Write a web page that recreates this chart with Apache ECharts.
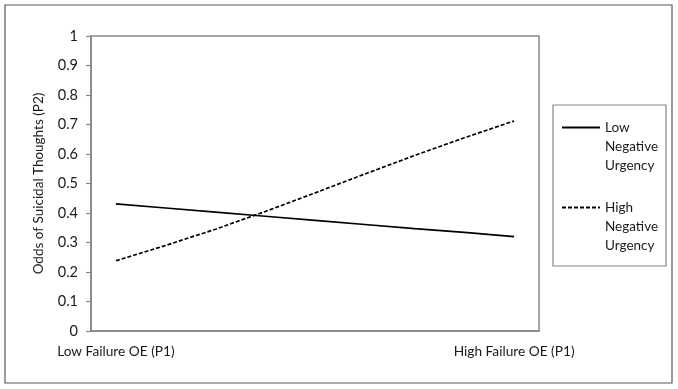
<!DOCTYPE html>
<html><head><meta charset="utf-8">
<script src="https://cdn.jsdelivr.net/npm/echarts@6/dist/echarts.min.js"></script>
<style>html,body{margin:0;padding:0;background:#fff}#c{width:678px;height:389px}</style>
</head><body><div id="c"></div>
<script>
var categories = ['Low Failure OE (P1)', '', '', '', '', '', '', '', 'High Failure OE (P1)'];
var lowNegUrgency = [0.431, 0.417, 0.403, 0.389, 0.375, 0.361, 0.347, 0.334, 0.320];
var highNegUrgency = [0.238, 0.290, 0.345, 0.405, 0.468, 0.532, 0.595, 0.655, 0.712];
var yTicks = {min: 0, max: 1, interval: 0.1};
var yTitle = 'Odds of Suicidal Thoughts (P2)';
var seriesNames = ['Low\nNegative\nUrgency', 'High\nNegative\nUrgency'];

var font = 'Lato, "Open Sans", sans-serif';
var axisGray = '#868686';
var txt = '#1a1a1a';
var chart = echarts.init(document.getElementById('c'), null, {renderer: 'canvas'});
chart.setOption({
  animation: false,
  backgroundColor: '#fff',
  textStyle: {fontFamily: font},
  grid: {left: 91, right: 139, top: 36, bottom: 58, show: true, borderColor: axisGray, borderWidth: 1.5, containLabel: false},
  graphic: [
    {type: 'rect', shape: {x: 5, y: 5, width: 667, height: 378}, style: {fill: 'none', stroke: '#595959', lineWidth: 1.2}, silent: true},
    {type: 'rect', shape: {x: 553, y: 105, width: 113, height: 161}, style: {fill: 'none', stroke: axisGray, lineWidth: 1.2}, silent: true}
  ],
  legend: {
    orient: 'vertical',
    left: 561, top: 80,
    padding: 0,
    itemWidth: 38, itemHeight: 10, itemGap: -15,
    itemStyle: {opacity: 0},
    formatter: function (n) { return '\n\n' + n; },
    textStyle: {fontFamily: font, fontSize: 13.5, color: txt, lineHeight: 19},
    data: seriesNames
  },
  xAxis: {
    type: 'category', data: categories, boundaryGap: true,
    axisLine: {lineStyle: {color: axisGray, width: 1.5}},
    axisTick: {show: false},
    axisLabel: {interval: 0, margin: 14, fontSize: 13.7, color: txt, fontFamily: font}
  },
  yAxis: {
    type: 'value', min: yTicks.min, max: yTicks.max, interval: yTicks.interval,
    name: yTitle, nameLocation: 'middle', nameGap: 45, nameRotate: 90,
    nameTextStyle: {fontSize: 13.5, color: txt, fontFamily: font},
    axisLine: {show: true, lineStyle: {color: axisGray, width: 1.5}},
    axisTick: {show: true, length: 5, lineStyle: {color: axisGray, width: 1.2}},
    splitLine: {show: false},
    axisLabel: {margin: 13, fontSize: 14.5, color: txt, fontFamily: font}
  },
  series: [
    {name: seriesNames[0], type: 'line', data: lowNegUrgency, symbol: 'none',
     lineStyle: {color: '#000', width: 1.7, type: 'solid'}, itemStyle: {color: '#000'}},
    {name: seriesNames[1], type: 'line', data: highNegUrgency, symbol: 'none',
     lineStyle: {color: '#000', width: 1.7, type: [4, 2]}, itemStyle: {color: '#000'}}
  ]
});
</script></body></html>
